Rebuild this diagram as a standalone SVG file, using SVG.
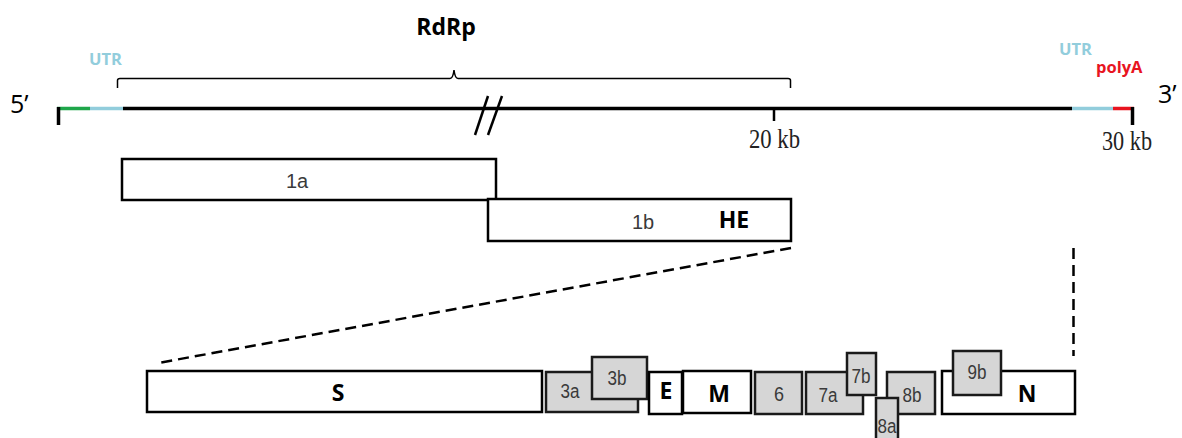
<svg xmlns="http://www.w3.org/2000/svg" width="1182" height="438" viewBox="0 0 1182 438">
<style>
.box{fill:#ffffff;stroke:#000;stroke-width:2.5}
.gbox{fill:#d6d6d6;stroke:#1a1a1a;stroke-width:2.5}
.lbl{font-family:"Liberation Sans",Arial,sans-serif;font-size:20px;fill:#3a3a3a;text-anchor:middle}
.big{font-family:"Open Sans","Liberation Sans",sans-serif;font-weight:bold;font-size:23px;fill:#000;text-anchor:middle}
.kb{font-family:"Liberation Serif","Times New Roman",serif;font-size:27px;fill:#222}
.prime{font-family:"Open Sans","Liberation Sans",sans-serif;font-size:25px;fill:#000}
.utr{font-family:"Open Sans","Liberation Sans",sans-serif;font-weight:bold;font-size:16.5px;fill:#92CDDC}
.dash{fill:none;stroke:#000;stroke-width:2.5;stroke-dasharray:11,6}
</style>
<rect width="1182" height="438" fill="#ffffff"/>

<g id="genome">
  <line x1="123" y1="108.5" x2="1072" y2="108.5" stroke="#000" stroke-width="3.5"/>
  <line x1="57" y1="108.5" x2="90" y2="108.5" stroke="#1fa64a" stroke-width="3.5"/>
  <line x1="90" y1="108.5" x2="123" y2="108.5" stroke="#92CDDC" stroke-width="3.5"/>
  <line x1="1072" y1="108.5" x2="1113" y2="108.5" stroke="#92CDDC" stroke-width="3.5"/>
  <line x1="1113" y1="108.5" x2="1134" y2="108.5" stroke="#e8141f" stroke-width="3.5"/>
  <line x1="58.5" y1="107" x2="58.5" y2="125" stroke="#000" stroke-width="3.5"/>
  <line x1="1132.5" y1="107" x2="1132.5" y2="125" stroke="#000" stroke-width="3.5"/>
  <line x1="774" y1="108" x2="774" y2="121" stroke="#000" stroke-width="2.5"/>
  <line x1="475" y1="135" x2="488" y2="96" stroke="#000" stroke-width="2.5"/>
  <line x1="488" y1="135" x2="502" y2="96" stroke="#000" stroke-width="2.5"/>
  <text class="prime" x="10" y="113">5’</text>
  <text class="prime" x="1158" y="103">3’</text>
  <text class="utr" x="89" y="65">UTR</text>
  <text class="utr" x="1059" y="55">UTR</text>
  <text x="1096" y="73" font-family="'Open Sans','Liberation Sans',sans-serif" font-weight="bold" font-size="16.5" fill="#e8141f">polyA</text>
  <text class="kb" x="749" y="148" textLength="51" lengthAdjust="spacingAndGlyphs">20 kb</text>
  <text class="kb" x="1102" y="150" textLength="50" lengthAdjust="spacingAndGlyphs">30 kb</text>
</g>

<g id="rdrp">
  <path d="M117.5,88 V80.5 Q117.5,78.5 120,78.5 H450 Q453,78.5 454,70 Q455,78.5 458,78.5 H788 Q790.5,78.5 790.5,80.5 V88" fill="none" stroke="#000" stroke-width="1.5"/>
  <text class="big" x="446" y="35" font-size="25">RdRp</text>
</g>

<g id="orf1a">
  <rect class="box" x="122" y="159" width="374" height="41"/>
  <text class="lbl" x="297" y="188" font-size="18">1a</text>
</g>
<g id="orf1b">
  <rect class="box" x="488" y="199" width="303" height="42"/>
  <text class="lbl" x="643" y="229" font-size="18">1b</text>
  <text class="big" x="734" y="228">HE</text>
</g>

<g id="connectors">
  <line class="dash" x1="791" y1="248" x2="158" y2="363"/>
  <line class="dash" x1="1073.5" y1="248" x2="1073.5" y2="356"/>
</g>

<g id="S"><rect class="box" x="147" y="371" width="395" height="41"/><text class="big" x="338" y="401">S</text></g>
<g id="g3a"><rect class="gbox" x="546" y="372" width="92" height="40"/><text class="lbl" x="570" y="398" textLength="19" lengthAdjust="spacingAndGlyphs">3a</text></g>
<g id="g3b"><rect class="gbox" x="592" y="357" width="55" height="42"/><text class="lbl" x="617" y="385" textLength="19" lengthAdjust="spacingAndGlyphs">3b</text></g>
<g id="E"><rect class="box" x="649" y="372" width="33" height="42"/><text class="big" x="666" y="399" font-size="21">E</text></g>
<g id="M"><rect class="box" x="683" y="371" width="68" height="42"/><text class="big" x="719" y="402">M</text></g>
<g id="g6"><rect class="gbox" x="755" y="372" width="47" height="42"/><text class="lbl" x="779" y="401" textLength="10" lengthAdjust="spacingAndGlyphs">6</text></g>
<g id="g7a"><rect class="gbox" x="806" y="372" width="57" height="42"/><text class="lbl" x="828" y="402" textLength="19" lengthAdjust="spacingAndGlyphs">7a</text></g>
<g id="g7b"><rect class="gbox" x="847" y="353" width="29" height="42"/><text class="lbl" x="861" y="383" textLength="19" lengthAdjust="spacingAndGlyphs">7b</text></g>
<g id="g8b"><rect class="gbox" x="887" y="372" width="48" height="42"/><text class="lbl" x="912" y="402" textLength="19" lengthAdjust="spacingAndGlyphs">8b</text></g>
<g id="g8a"><rect class="gbox" x="876" y="398" width="22" height="50"/><text class="lbl" x="887" y="433" textLength="19" lengthAdjust="spacingAndGlyphs">8a</text></g>
<g id="N"><rect class="box" x="942" y="371" width="133" height="43"/><text class="big" x="1027" y="402">N</text></g>
<g id="g9b"><rect class="gbox" x="953" y="351" width="48" height="44"/><text class="lbl" x="977" y="379" textLength="19" lengthAdjust="spacingAndGlyphs">9b</text></g>
</svg>
